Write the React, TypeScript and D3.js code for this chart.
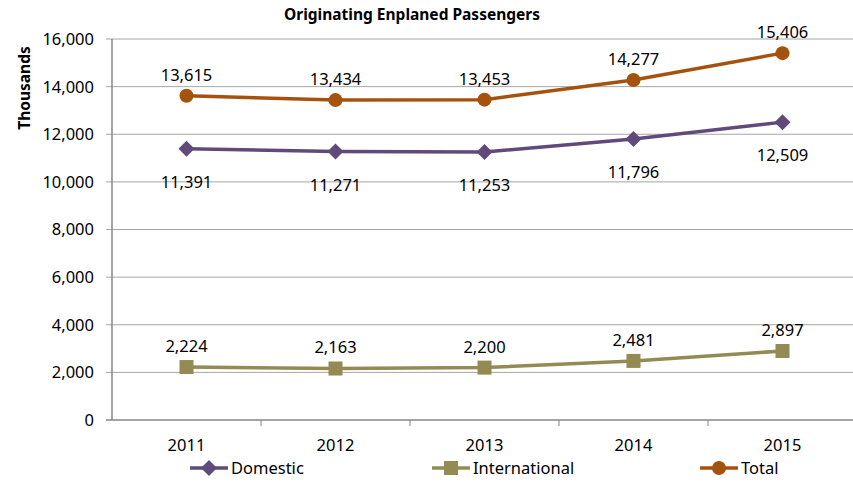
import React, { useRef, useEffect } from 'react';
import * as d3 from 'd3';

const years = ['2011', '2012', '2013', '2014', '2015'];
const domestic = [11391, 11271, 11253, 11796, 12509];
const international = [2224, 2163, 2200, 2481, 2897];
const total = [13615, 13434, 13453, 14277, 15406];
const yTicks = [0, 2000, 4000, 6000, 8000, 10000, 12000, 14000, 16000];

const FONT = 'Noto Sans, sans-serif';
const FS = 16.5;

interface Series {
  name: string;
  values: number[];
  color: string;
  marker: 'diamond' | 'square' | 'circle';
  labelPos: 'above' | 'below';
}

const seriesList: Series[] = [
  { name: 'Domestic', values: domestic, color: '#604A7B', marker: 'diamond', labelPos: 'below' },
  { name: 'International', values: international, color: '#948A54', marker: 'square', labelPos: 'above' },
  { name: 'Total', values: total, color: '#A5520F', marker: 'circle', labelPos: 'above' },
];

function drawMarker(g: d3.Selection<SVGGElement, unknown, null, undefined>, type: string, x: number, y: number, color: string) {
  if (type === 'circle') {
    g.append('circle').attr('cx', x).attr('cy', y).attr('r', 7).attr('fill', color);
  } else if (type === 'square') {
    g.append('rect').attr('x', x - 7).attr('y', y - 7).attr('width', 14).attr('height', 14).attr('fill', color);
  } else {
    const s = 8;
    g.append('path')
      .attr('d', `M${x},${y - s}L${x + s},${y}L${x},${y + s}L${x - s},${y}Z`)
      .attr('fill', color);
  }
}

function LineChart(): React.ReactElement {
  const svgRef = useRef<SVGSVGElement | null>(null);

  useEffect(() => {
    const width = 853;
    const left = 112;
    const right = 857;
    const top = 39;
    const bottom = 420;

    const svg = d3.select(svgRef.current);
    svg.selectAll('*').remove();

    const x = d3.scaleBand<string>().domain(years).range([left, right]);
    const y = d3.scaleLinear().domain([0, 16000]).range([bottom, top]);
    const cx = (d: string) => (x(d) ?? 0) + x.bandwidth() / 2;
    const fmt = d3.format(',');

    const root = svg.append('g');

    // grid lines with small outer ticks
    root.append('g').selectAll('line')
      .data(yTicks.filter((t) => t > 0))
      .enter()
      .append('line')
      .attr('x1', left - 6)
      .attr('x2', width)
      .attr('y1', (d) => y(d))
      .attr('y2', (d) => y(d))
      .attr('stroke', '#A6A6A6')
      .attr('stroke-width', 1);

    root.append('g').selectAll('text')
      .data(yTicks)
      .enter()
      .append('text')
      .attr('x', left - 18)
      .attr('y', (d) => y(d))
      .attr('dy', '0.36em')
      .attr('text-anchor', 'end')
      .attr('font-family', FONT)
      .attr('font-size', FS)
      .attr('fill', '#000')
      .text((d) => fmt(d));

    root.append('line')
      .attr('x1', left).attr('x2', left)
      .attr('y1', top).attr('y2', bottom)
      .attr('stroke', '#868686').attr('stroke-width', 1.5);
    root.append('line')
      .attr('x1', left - 6).attr('x2', width)
      .attr('y1', bottom).attr('y2', bottom)
      .attr('stroke', '#868686').attr('stroke-width', 1.5);

    // x tick marks between categories
    root.append('g').selectAll('line')
      .data(years.slice(1))
      .enter()
      .append('line')
      .attr('x1', (d) => x(d) ?? 0)
      .attr('x2', (d) => x(d) ?? 0)
      .attr('y1', bottom)
      .attr('y2', bottom + 6)
      .attr('stroke', '#868686');

    root.append('g').selectAll('text')
      .data(years)
      .enter()
      .append('text')
      .attr('x', (d) => cx(d))
      .attr('y', 451)
      .attr('text-anchor', 'middle')
      .attr('font-family', FONT)
      .attr('font-size', FS)
      .text((d) => d);

    const line = d3.line<number>()
      .x((_, i) => cx(years[i]))
      .y((d) => y(d));

    seriesList.forEach((s) => {
      const g = root.append('g');
      g.append('path')
        .attr('d', line(s.values))
        .attr('fill', 'none')
        .attr('stroke', s.color)
        .attr('stroke-width', 3.5);
      s.values.forEach((v, i) => {
        drawMarker(g, s.marker, cx(years[i]), y(v), s.color);
        g.append('text')
          .attr('x', cx(years[i]))
          .attr('y', s.labelPos === 'above' ? y(v) - 15 : y(v) + 39)
          .attr('text-anchor', 'middle')
          .attr('font-family', FONT)
          .attr('font-size', FS)
          .attr('fill', '#000')
          .text(fmt(v));
      });
    });

    svg.append('text')
      .attr('x', 412)
      .attr('y', 20)
      .attr('text-anchor', 'middle')
      .attr('font-family', FONT)
      .attr('font-weight', 'bold')
      .attr('font-size', 15.5)
      .text('Originating Enplaned Passengers');

    svg.append('text')
      .attr('transform', 'translate(30,88) rotate(-90)')
      .attr('text-anchor', 'middle')
      .attr('font-family', FONT)
      .attr('font-weight', 'bold')
      .attr('font-size', 15.5)
      .text('Thousands');

    const legendX = [190, 432, 700];
    seriesList.forEach((s, i) => {
      const g = svg.append('g');
      const lx = legendX[i];
      const ly = 468;
      g.append('line')
        .attr('x1', lx).attr('x2', lx + 38)
        .attr('y1', ly).attr('y2', ly)
        .attr('stroke', s.color).attr('stroke-width', 3.5);
      drawMarker(g, s.marker, lx + 19, ly, s.color);
      g.append('text')
        .attr('x', lx + 41)
        .attr('y', ly + 6)
        .attr('font-family', FONT)
        .attr('font-size', FS)
        .text(s.name);
    });
  }, []);

  return (
    <svg
      ref={svgRef}
      width={853}
      height={482}
      style={{ display: 'block', position: 'absolute', left: 0, top: 0, overflow: 'visible' }}
    />
  );
}

export default function App(): React.ReactElement {
  return <LineChart />;
}
